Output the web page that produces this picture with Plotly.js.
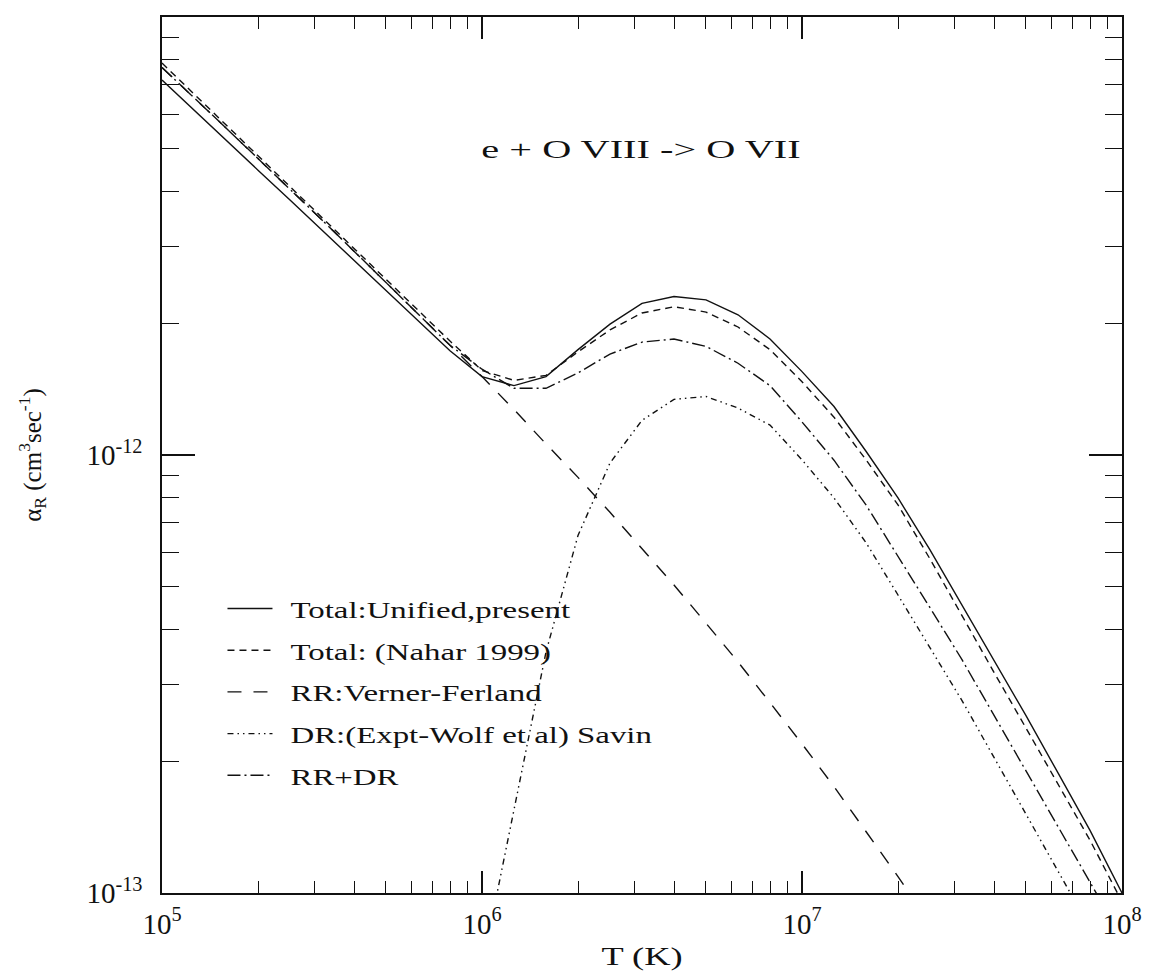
<!DOCTYPE html>
<html>
<head>
<meta charset="utf-8">
<script src="https://cdn.plot.ly/plotly-3.0.1.min.js"></script>
<style>
html,body{margin:0;padding:0;background:#fff;}
#plot{width:1159px;height:971px;}
</style>
</head>
<body>
<div id="plot"></div>
<script>
// log10(T) grid of the tabulated curves
const logT = [5.0,5.1,5.2,5.3,5.4,5.5,5.6,5.7,5.8,5.9,6.0,6.1,6.2,6.3,6.4,6.5,6.6,6.7,6.8,6.9,7.0,7.1,7.2,7.3,7.4,7.5,7.6,7.7,7.8,7.9,8.0];

const totalUnified = [7.18e-12,6.12e-12,5.24e-12,4.47e-12,3.82e-12,3.26e-12,2.79e-12,2.38e-12,2.03e-12,1.73e-12,
  1.51e-12,1.44e-12,1.51e-12,1.74e-12,1.99e-12,2.22e-12,2.30e-12,2.26e-12,2.09e-12,1.84e-12,
  1.55e-12,1.29e-12,1.02e-12,7.98e-13,6.07e-13,4.54e-13,3.40e-13,2.54e-13,1.88e-13,1.39e-13,1.00e-13];

const totalNahar = [7.85e-12,6.67e-12,5.68e-12,4.82e-12,4.10e-12,3.48e-12,2.96e-12,2.52e-12,2.14e-12,1.82e-12,
  1.56e-12,1.48e-12,1.52e-12,1.72e-12,1.93e-12,2.11e-12,2.18e-12,2.12e-12,1.96e-12,1.74e-12,
  1.47e-12,1.22e-12,9.75e-13,7.69e-13,5.79e-13,4.29e-13,3.19e-13,2.38e-13,1.77e-13,1.32e-13,9.55e-14];

const rrVerner = [7.67e-12,6.55e-12,5.58e-12,4.75e-12,4.05e-12,3.44e-12,2.92e-12,2.48e-12,2.10e-12,1.78e-12,
  1.51e-12,1.27e-12,1.06e-12,8.89e-13,7.40e-13,6.12e-13,5.05e-13,4.13e-13,3.37e-13,2.72e-13,
  2.19e-13,1.75e-13,1.38e-13,1.09e-13,8.51e-14,6.60e-14];

// DR starts at log T = 6.0
const logT_DR = [6.0,6.1,6.2,6.3,6.4,6.5,6.6,6.7,6.8,6.9,7.0,7.1,7.2,7.3,7.4,7.5,7.6,7.7,7.8,7.9,8.0];
const drSavin = [6.76e-14,1.55e-13,3.55e-13,6.55e-13,9.59e-13,1.20e-12,1.34e-12,1.36e-12,1.28e-12,1.17e-12,
  9.75e-13,7.98e-13,6.31e-13,4.79e-13,3.63e-13,2.75e-13,2.04e-13,1.51e-13,1.12e-13,8.32e-14,6.17e-14];

const rrPlusDr = [7.67e-12,6.55e-12,5.58e-12,4.75e-12,4.05e-12,3.44e-12,2.92e-12,2.48e-12,2.10e-12,1.78e-12,
  1.57e-12,1.42e-12,1.42e-12,1.54e-12,1.70e-12,1.81e-12,1.84e-12,1.77e-12,1.62e-12,1.44e-12,
  1.19e-12,9.73e-13,7.69e-13,5.88e-13,4.48e-13,3.41e-13,2.55e-13,1.91e-13,1.42e-13,1.06e-13,7.90e-14];

const xTickVals = [1e5,1e6,1e7,1e8];
const xTickText = ['10<sup>5</sup>','10<sup>6</sup>','10<sup>7</sup>','10<sup>8</sup>'];
const yTickVals = [1e-13,1e-12,1e-11];
const yTickText = ['10<sup>-13</sup>','10<sup>-12</sup>','10<sup>-11</sup>'];
const xMinor = [2e5,3e5,4e5,5e5,6e5,7e5,8e5,9e5,2e6,3e6,4e6,5e6,6e6,7e6,8e6,9e6,2e7,3e7,4e7,5e7,6e7,7e7,8e7,9e7];
const yMinor = [2e-13,3e-13,4e-13,5e-13,6e-13,7e-13,8e-13,9e-13,2e-12,3e-12,4e-12,5e-12,6e-12,7e-12,8e-12,9e-12];

const T = logT.map(v => Math.pow(10, v));
const T_DR = logT_DR.map(v => Math.pow(10, v));
const T_RR = T.slice(0, rrVerner.length);

const col = '#111';
const FONT = 'Liberation Serif';

const data = [
  {x: T, y: totalUnified, name: 'Total:Unified,present', legendgroup:'a', mode:'lines',
   line:{color:col, width:1.4, dash:'solid'}},
  {x: T, y: totalNahar, name: 'Total: (Nahar 1999)', legendgroup:'b', mode:'lines',
   line:{color:col, width:1.4, dash:'7px,5px'}},
  {x: T_RR, y: rrVerner, name: 'RR:Verner-Ferland', legendgroup:'c', mode:'lines',
   line:{color:col, width:1.4, dash:'14px,12px'}},
  {x: T_DR, y: drSavin, name: 'DR:(Expt-Wolf et al) Savin', legendgroup:'d', mode:'lines',
   line:{color:col, width:1.4, dash:'6px,4px,1.5px,4px,1.5px,4px'}},
  {x: T, y: rrPlusDr, name: 'RR+DR', legendgroup:'e', mode:'lines',
   line:{color:col, width:1.4, dash:'13px,4px,2px,4px'}}
];

const layout = {
  width:1159, height:971,
  margin:{l:162, r:37, t:17, b:78},
  paper_bgcolor:'#fff', plot_bgcolor:'#fff',
  font:{family:FONT, color:col},
  showlegend:true,
  legend:{x:0.063, xanchor:'left', y:0.35, yanchor:'top', bgcolor:'rgba(0,0,0,0)', borderwidth:0,
          font:{family:FONT, size:24, color:col}, itemwidth:45, tracegroupgap:7.5, traceorder:'grouped'},
  xaxis:{type:'log', range:[5,8], showgrid:false, zeroline:false,
         showline:true, linecolor:col, linewidth:1.5, mirror:'allticks',
         ticks:'inside', ticklen:22, tickwidth:1.5, tickcolor:col,
         tickmode:'array', tickvals:xTickVals, ticktext:xTickText,
         tickfont:{family:FONT, size:29, color:col}, ticklabelstandoff:4,
         minor:{tickmode:'array', tickvals:xMinor, ticks:'inside', ticklen:12, tickwidth:1.3, tickcolor:col, showgrid:false},
         title:{text:'T (K)', font:{family:FONT, size:26, color:col}, standoff:14}},
  yaxis:{type:'log', range:[-13,-11], showgrid:false, zeroline:false,
         showline:true, linecolor:col, linewidth:1.5, mirror:'allticks',
         ticks:'inside', ticklen:33, tickwidth:1.5, tickcolor:col,
         tickmode:'array', tickvals:yTickVals, ticktext:yTickText,
         tickfont:{family:FONT, size:29, color:col}, ticklabelstandoff:12,
         minor:{tickmode:'array', tickvals:yMinor, ticks:'inside', ticklen:17, tickwidth:1.3, tickcolor:col, showgrid:false},
         title:{text:'α<sub>R</sub> (cm<sup>3</sup>sec<sup>-1</sup>)', font:{family:FONT, size:25, color:col}, standoff:38}},
  annotations:[{xref:'paper', yref:'paper', x:0.499, y:0.849, xanchor:'center', yanchor:'middle',
                text:'e + O VIII -> O VII', showarrow:false, font:{family:FONT, size:26, color:col}}]
};

Plotly.newPlot('plot', data, layout, {displayModeBar:false}).then(function(gd){
  function stretch(sel, s, origin, shift){
    gd.querySelectorAll(sel).forEach(function(t){
      t.style.transformBox = 'fill-box';
      t.style.transformOrigin = origin;
      t.style.transform = (shift ? 'translateX(' + shift + 'px) ' : '') + 'scaleX(' + s + ')';
    });
  }
  gd.querySelectorAll('.legend .scrollbox, .legend').forEach(function(g){ g.removeAttribute('clip-path'); });
  stretch('.legendtext', 1.37, 'left center', 13);
  stretch('.annotation-text', 1.55, 'center center');
  stretch('.xtitle', 1.4, 'center center');
});
</script>
</body>
</html>
